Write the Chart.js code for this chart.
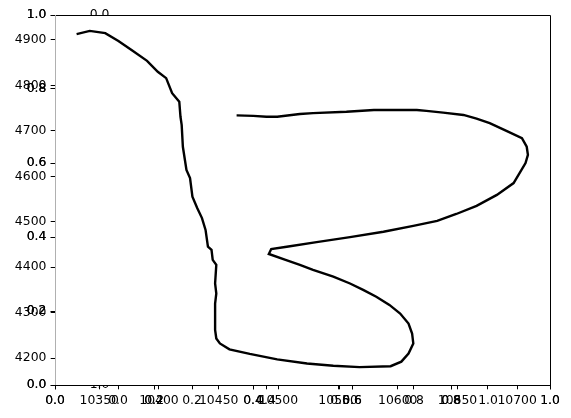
<!DOCTYPE html>
<html>
<head>
<meta charset="utf-8">
<script src="https://cdn.jsdelivr.net/npm/chart.js@4.4.1/dist/chart.umd.min.js"></script>
<style>
  html, body { margin: 0; padding: 0; background: #fff; }
  canvas { display: block; }
</style>
</head>
<body>
<canvas id="c" width="571" height="418"></canvas>
<script>
// ---- data ----
const xValues = [10331,10342,10355,10366,10377,10390,10399,10406,10411,10417,10418,10419,10420,10423,10426,10428,10432,10436,10439,10441,10444,10445,10448,10447,10448,10447,10447,10448,10451,10459,10476,10499,10524,10546,10568,10594,10603,10609,10613,10612,10609,10602,10593,10582,10571,10560,10546,10529,10518,10506,10492,10494,10507,10532,10560,10588,10613,10633,10649,10666,10683,10697,10702,10707,10709,10708,10704,10691,10677,10666,10655,10638,10624,10616,10591,10580,10557,10529,10518,10499,10490,10479,10465];
const yValues = [4913,4920,4915,4898,4878,4854,4830,4816,4783,4764,4731,4713,4665,4614,4596,4555,4530,4508,4482,4445,4438,4416,4405,4364,4342,4320,4262,4243,4232,4219,4209,4197,4188,4183,4180,4182,4192,4210,4232,4254,4276,4298,4317,4335,4350,4364,4379,4394,4405,4416,4429,4440,4445,4455,4466,4478,4491,4502,4517,4535,4559,4585,4607,4629,4647,4665,4684,4700,4717,4727,4735,4740,4744,4746,4746,4746,4742,4739,4737,4731,4731,4733,4734];
const xTicks = [10350,10400,10450,10500,10550,10600,10650,10700];
const yTicks = [4200,4300,4400,4500,4600,4700,4800,4900];
const unitTicks = [0,0.2,0.4,0.6,0.8,1.0];
const extraYLabels = ['0.0','1.0'];

const FONT = {family: 'DejaVu Sans', size: 12.4};
const TL = 4.3;

function mkScale(axis, position, min, max, ticks, fmt, fitSize) {
  return {
    type: 'linear', axis: axis, position: position, min: min, max: max,
    grid: {drawOnChartArea: false, drawTicks: true, tickLength: TL, tickWidth: 1, color: '#000'},
    border: {display: false},
    ticks: {font: FONT, color: '#000', padding: 4.3, autoSkip: false, maxRotation: 0,
            callback: fmt},
    afterBuildTicks: s => { s.ticks = ticks.map(v => ({value: v})); },
    afterFit: s => { if (axis === 'x') s.height = fitSize; else s.width = fitSize; }
  };
}
const f1 = v => Number(v).toFixed(1);
const f0 = v => String(Math.round(v));

// let all stacked axes share the same strip so their labels overlap
const overlapAxes = {
  id: 'overlapAxes',
  afterLayout(chart) {
    const a = chart.chartArea;
    Object.values(chart.scales).forEach(s => {
      if (s.options.position === 'left') {
        s.left = 0; s.right = a.left; s.width = a.left;
      } else if (s.options.position === 'bottom') {
        s.top = a.bottom; s.bottom = chart.height; s.height = chart.height - a.bottom;
      }
    });
  }
};

const frame = {
  id: 'frame',
  afterDraw(chart) {
    const {ctx, chartArea: a} = chart;
    ctx.save();
    ctx.lineWidth = 1;
    ctx.strokeStyle = '#000';
    ctx.beginPath();
    ctx.moveTo(a.left, a.top + 0.5); ctx.lineTo(a.right + 0.5, a.top + 0.5);
    ctx.lineTo(a.right + 0.5, a.bottom + 0.5); ctx.lineTo(a.left, a.bottom + 0.5);
    ctx.stroke();
    ctx.strokeStyle = '#b0b0b0';
    ctx.beginPath();
    ctx.moveTo(a.left + 0.5, a.top); ctx.lineTo(a.left + 0.5, a.bottom);
    ctx.stroke();
    // half-hidden y labels of the offset axes
    const xc = chart.scales.xc;
    const lx = xc.getPixelForValue(0) - TL - 4.3;
    ctx.font = FONT.size + 'px "DejaVu Sans"';
    ctx.fillStyle = '#000';
    ctx.textAlign = 'right';
    ctx.textBaseline = 'middle';
    ctx.save();
    ctx.beginPath(); ctx.rect(0, 0, chart.width, a.top); ctx.clip();
    ctx.fillText(extraYLabels[0], lx, a.top);
    ctx.restore();
    ctx.save();
    ctx.beginPath(); ctx.rect(0, a.bottom + 1, chart.width, chart.height); ctx.clip();
    ctx.fillText(extraYLabels[1], lx, a.bottom);
    ctx.restore();
    ctx.restore();
  }
};

new Chart(document.getElementById('c'), {
  type: 'scatter',
  data: {
    datasets: [{
      data: xValues.map((x, i) => ({x: x, y: yValues[i]})),
      showLine: true, borderColor: '#000', borderWidth: 2.4, pointRadius: 0,
      tension: 0, fill: false, xAxisID: 'x', yAxisID: 'y'
    }]
  },
  options: {
    responsive: false, animation: false, devicePixelRatio: 1,
    layout: {padding: {top: 15, right: 21, left: 0, bottom: 0}},
    plugins: {legend: {display: false}, tooltip: {enabled: false}},
    scales: {
      x: mkScale('x', 'bottom', 10312.9, 10727.5, xTicks, f0, 0),
      y: mkScale('y', 'left', 4140.6, 4955, yTicks, f0, 0),
      ya: mkScale('y', 'left', 0, 1, unitTicks, f1, 0),
      yb: mkScale('y', 'left', 0, 1, unitTicks, f1, 55),
      xa: mkScale('x', 'bottom', 0, 1, unitTicks, f1, 0),
      xb: mkScale('x', 'bottom', 0, 1, unitTicks, f1, 0),
      xc: mkScale('x', 'bottom', -0.1703, 1.1676, unitTicks, f1, 33)
    }
  },
  plugins: [overlapAxes, frame]
});
</script>
</body>
</html>
